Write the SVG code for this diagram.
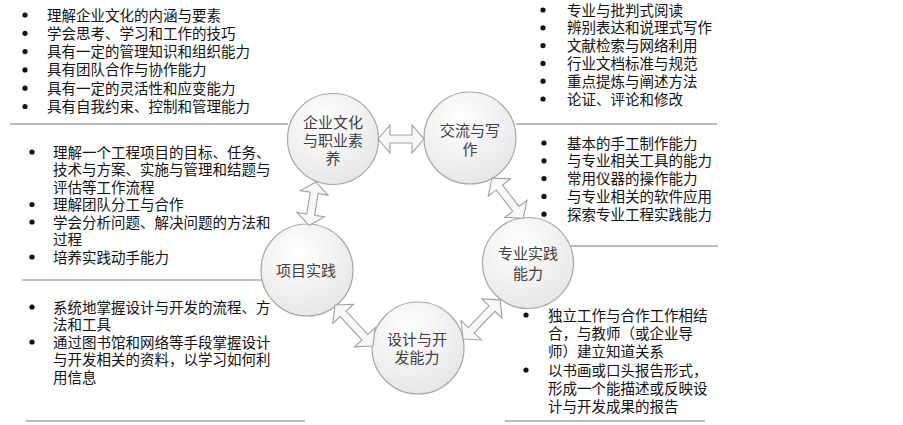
<svg xmlns="http://www.w3.org/2000/svg" width="903" height="425" viewBox="0 0 903 425">
<style>
.t{font-family:"Liberation Sans","Noto Sans CJK SC",sans-serif;font-size:14.5px;fill:#111}
.c{font-family:"Liberation Sans","Noto Sans CJK SC",sans-serif;font-size:15px;fill:#404040;text-anchor:middle}
.node{fill:url(#g);stroke:#a6a6a6;stroke-width:1.2}
.arr{fill:#f7f7f7;stroke:#a0a0a0;stroke-width:1.1;stroke-linejoin:miter}
.ln{stroke:#a8a8a8;stroke-width:1.5;fill:none}
.b{fill:#111}
</style>
<defs>
<radialGradient id="g" cx="0.4" cy="0.3" r="0.8">
<stop offset="0" stop-color="#ffffff"/>
<stop offset="1" stop-color="#e4e4e4"/>
</radialGradient>
</defs>

<g id="connectors">
<line class="ln" x1="10" y1="124" x2="288" y2="124"/>
<line class="ln" x1="516" y1="124" x2="717" y2="124"/>
<line class="ln" x1="570" y1="246" x2="718" y2="246"/>
<line class="ln" x1="22" y1="280" x2="262" y2="280"/>
<line class="ln" x1="26" y1="421" x2="305" y2="421"/>
<line class="ln" x1="505" y1="421" x2="705" y2="421"/>
</g>

<g id="node-culture">
<circle class="node" cx="333" cy="139" r="45.5"/>
<text class="c"><tspan x="333" y="127.5">企业文化</tspan><tspan x="333" y="145.5">与职业素</tspan><tspan x="333" y="163.5">养</tspan></text>
</g>
<g id="node-writing">
<circle class="node" cx="470" cy="138" r="46"/>
<text class="c"><tspan x="470" y="135.5">交流与写</tspan><tspan x="470" y="154.5">作</tspan></text>
</g>
<g id="node-project">
<circle class="node" cx="307" cy="270" r="46"/>
<text class="c" x="306" y="275.5">项目实践</text>
</g>
<g id="node-practice">
<circle class="node" cx="528" cy="263" r="45.5"/>
<text class="c"><tspan x="528" y="258.5">专业实践</tspan><tspan x="528" y="278.5">能力</tspan></text>
</g>
<g id="node-design">
<circle class="node" cx="418" cy="348" r="46"/>
<text class="c"><tspan x="417" y="344.5">设计与开</tspan><tspan x="417" y="362.5">发能力</tspan></text>
</g>

<g id="arrows">
<path class="arr" transform="translate(378,139)" d="M0,0 L12,-14 L12,-4 L34,-4 L34,-14 L46,0 L34,14 L34,4 L12,4 L12,14 Z"/>
<path class="arr" transform="translate(316,182) rotate(99.2)" d="M0,0 L11,-14 L11,-4 L33,-4 L33,-14 L44,0 L33,14 L33,4 L11,4 L11,14 Z"/>
<path class="arr" transform="translate(492,178) rotate(52.2)" d="M0,0 L12,-14 L12,-4 L39,-4 L39,-14 L51,0 L39,14 L39,4 L12,4 L12,14 Z"/>
<path class="arr" transform="translate(335,305) rotate(47.2)" d="M0,0 L12,-14 L12,-4 L44,-4 L44,-14 L56,0 L44,14 L44,4 L12,4 L12,14 Z"/>
<path class="arr" transform="translate(463,339) rotate(-46.5)" d="M0,0 L12,-14 L12,-4 L42,-4 L42,-14 L54,0 L42,14 L42,4 L12,4 L12,14 Z"/>
</g>

<g id="list-culture">
<circle class="b" cx="25" cy="15" r="2.6"/>
<circle class="b" cx="25" cy="33.3" r="2.6"/>
<circle class="b" cx="25" cy="51.6" r="2.6"/>
<circle class="b" cx="25" cy="69.9" r="2.6"/>
<circle class="b" cx="25" cy="88.2" r="2.6"/>
<circle class="b" cx="25" cy="106.5" r="2.6"/>
<text class="t"><tspan x="47" y="20.5">理解企业文化的内涵与要素</tspan><tspan x="47" y="38.8">学会思考、学习和工作的技巧</tspan><tspan x="47" y="57.1">具有一定的管理知识和组织能力</tspan><tspan x="47" y="75.4">具有团队合作与协作能力</tspan><tspan x="47" y="93.7">具有一定的灵活性和应变能力</tspan><tspan x="47" y="112">具有自我约束、控制和管理能力</tspan></text>
</g>

<g id="list-writing">
<circle class="b" cx="543" cy="10" r="2.6"/>
<circle class="b" cx="543" cy="27.8" r="2.6"/>
<circle class="b" cx="543" cy="45.6" r="2.6"/>
<circle class="b" cx="543" cy="63.4" r="2.6"/>
<circle class="b" cx="543" cy="81.2" r="2.6"/>
<circle class="b" cx="543" cy="99" r="2.6"/>
<text class="t"><tspan x="567" y="15.5">专业与批判式阅读</tspan><tspan x="567" y="33.3">辨别表达和说理式写作</tspan><tspan x="567" y="51.1">文献检索与网络利用</tspan><tspan x="567" y="68.9">行业文档标准与规范</tspan><tspan x="567" y="86.7">重点提炼与阐述方法</tspan><tspan x="567" y="104.5">论证、评论和修改</tspan></text>
</g>

<g id="list-project">
<circle class="b" cx="32" cy="152" r="2.6"/>
<circle class="b" cx="32" cy="204.5" r="2.6"/>
<circle class="b" cx="32" cy="222" r="2.6"/>
<circle class="b" cx="32" cy="257" r="2.6"/>
<text class="t"><tspan x="53" y="157.5">理解一个工程项目的目标、任务、</tspan><tspan x="53" y="175">技术与方案、实施与管理和结题与</tspan><tspan x="53" y="192.5">评估等工作流程</tspan><tspan x="53" y="210">理解团队分工与合作</tspan><tspan x="53" y="227.5">学会分析问题、解决问题的方法和</tspan><tspan x="53" y="245">过程</tspan><tspan x="53" y="262.5">培养实践动手能力</tspan></text>
</g>

<g id="list-practice">
<circle class="b" cx="544" cy="143" r="2.6"/>
<circle class="b" cx="544" cy="160.8" r="2.6"/>
<circle class="b" cx="544" cy="178.6" r="2.6"/>
<circle class="b" cx="544" cy="196.4" r="2.6"/>
<circle class="b" cx="544" cy="214.2" r="2.6"/>
<text class="t"><tspan x="567" y="148.5">基本的手工制作能力</tspan><tspan x="567" y="166.3">与专业相关工具的能力</tspan><tspan x="567" y="184.1">常用仪器的操作能力</tspan><tspan x="567" y="201.9">与专业相关的软件应用</tspan><tspan x="567" y="219.7">探索专业工程实践能力</tspan></text>
</g>

<g id="list-design">
<circle class="b" cx="32" cy="307" r="2.6"/>
<circle class="b" cx="32" cy="342" r="2.6"/>
<text class="t"><tspan x="53" y="312.5">系统地掌握设计与开发的流程、方</tspan><tspan x="53" y="330">法和工具</tspan><tspan x="53" y="347.5">通过图书馆和网络等手段掌握设计</tspan><tspan x="53" y="365">与开发相关的资料，以学习如何利</tspan><tspan x="53" y="382.5">用信息</tspan></text>
</g>

<g id="list-report">
<circle class="b" cx="526" cy="315" r="2.6"/>
<circle class="b" cx="526" cy="370" r="2.6"/>
<text class="t"><tspan x="548" y="320.5">独立工作与合作工作相结</tspan><tspan x="548" y="338.5">合，与教师（或企业导</tspan><tspan x="548" y="356.5">师）建立知道关系</tspan><tspan x="548" y="375.5">以书画或口头报告形式，</tspan><tspan x="548" y="393.5">形成一个能描述或反映设</tspan><tspan x="548" y="411.5">计与开发成果的报告</tspan></text>
</g>
</svg>
